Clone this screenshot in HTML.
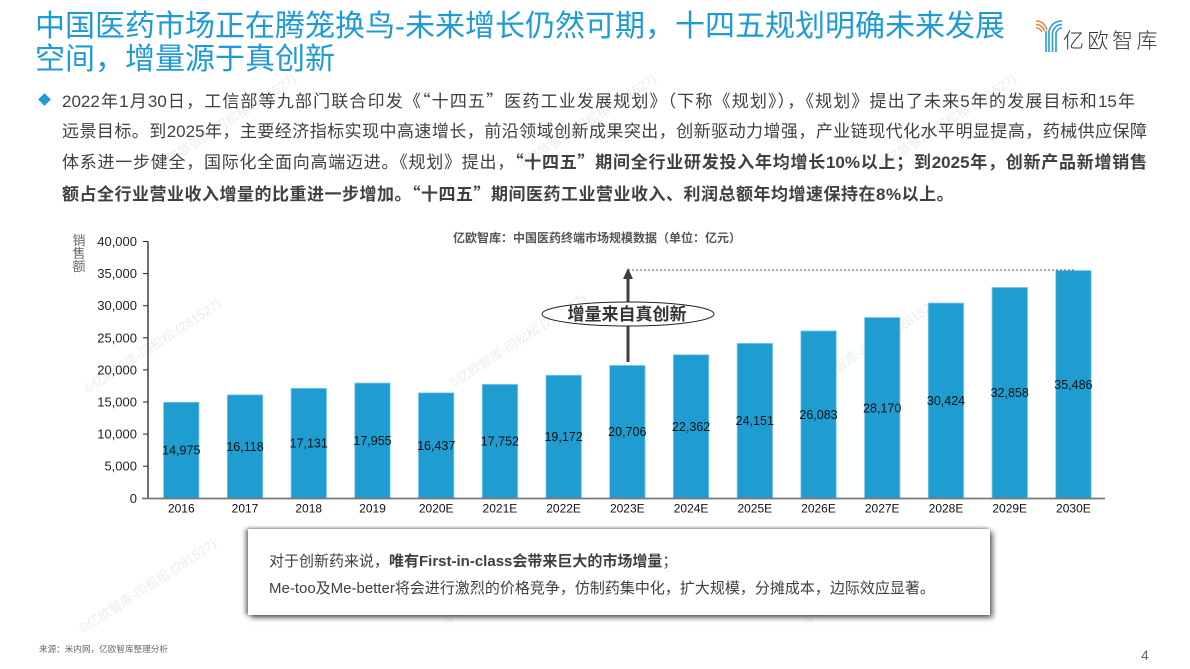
<!DOCTYPE html>
<html lang="zh-CN">
<head>
<meta charset="utf-8">
<style>
  html,body{margin:0;padding:0;background:#fff;}
  body{width:1190px;height:669px;position:relative;overflow:hidden;
       font-family:"Liberation Sans","Noto Sans CJK SC",sans-serif;}
  .title{position:absolute;left:35px;top:10px;font-size:30px;line-height:33px;color:#1E9AD6;
         font-family:"Liberation Sans","Noto Sans CJK SC",sans-serif;white-space:nowrap;}
  .body{position:absolute;left:62px;top:85px;font-size:17px;line-height:29.7px;color:#404040;}
  .body .ln{text-align:justify;text-align-last:justify;}
  .q{font-family:"Noto Sans CJK SC",sans-serif;}
  b{font-weight:700;}
  .diamond{position:absolute;left:40px;top:95px;width:9px;height:9px;background:#1E9AD6;transform:rotate(45deg);}
  .box{position:absolute;left:248px;top:529px;width:742px;height:86px;background:#fff;
       box-shadow:3px 3px 5px rgba(0,0,0,.55),-3px 0 4px rgba(0,0,0,.4),0 -1px 3px rgba(0,0,0,.25);}
  .box .t{position:absolute;left:21px;font-size:15px;color:#404040;white-space:nowrap;line-height:20px;}
  .src{position:absolute;left:39px;top:643px;font-size:8.6px;color:#666;}
  .pg{position:absolute;left:1141px;top:647px;font-size:14px;color:#666;}
  .logo-t{position:absolute;left:1063px;top:26px;font-size:21px;letter-spacing:3.5px;color:#333;
          font-family:"Noto Sans CJK SC",sans-serif;font-weight:300;line-height:28px;}
  svg{position:absolute;left:0;top:0;}
</style>
</head>
<body>

<!-- watermarks -->
<svg width="1190" height="669" style="z-index:0">
  <g fill="#ececec" font-size="13" font-family="Liberation Sans, Noto Sans CJK SC, sans-serif">
    <text transform="translate(155,350) rotate(-33)" text-anchor="middle">©亿欧智库-闫松松 (281527)</text>
    <text transform="translate(520,345) rotate(-33)" text-anchor="middle">©亿欧智库-闫松松 (281527)</text>
    <text transform="translate(875,348) rotate(-33)" text-anchor="middle">©亿欧智库-闫松松 (281527)</text>
    <text transform="translate(515,580) rotate(-33)" text-anchor="middle">©亿欧智库-闫松松 (281527)</text>
    <text transform="translate(875,580) rotate(-33)" text-anchor="middle">©亿欧智库-闫松松 (281527)</text>
    <text transform="translate(150,590) rotate(-33)" text-anchor="middle">©亿欧智库-闫松松 (281527)</text>
    <text transform="translate(230,125) rotate(-33)" text-anchor="middle">©亿欧智库-闫松松 (281527)</text>
    <text transform="translate(590,125) rotate(-33)" text-anchor="middle">©亿欧智库-闫松松 (281527)</text>
    <text transform="translate(950,125) rotate(-33)" text-anchor="middle">©亿欧智库-闫松松 (281527)</text>
  </g>
</svg>

<div class="title">中国医药市场正在腾笼换鸟-未来增长仍然可期，十四五规划明确未来发展<br>空间，增量源于真创新</div>

<!-- logo -->
<svg width="1190" height="669" style="z-index:2">
  <g fill="none" stroke-width="1.6">
    <path d="M1036,21 Q1044,21 1047,30" stroke="#D98B3A"/>
    <path d="M1036,24.5 Q1042,24.5 1044.5,31" stroke="#D98B3A"/>
    <path d="M1036,28 Q1040,28 1042,32" stroke="#D98B3A"/>
    <path d="M1062,21 Q1052,21 1049,31 L1049,52" stroke="#2A9BD5"/>
    <path d="M1062,24.5 Q1055,24.5 1052.5,32 L1052.5,52" stroke="#2A9BD5"/>
    <path d="M1062,28 Q1058,28 1056,33 L1056,52" stroke="#2A9BD5"/>
    <path d="M1046,31 L1046,52" stroke="#2A9BD5"/>
  </g>
</svg>
<div class="logo-t">亿欧智库</div>

<div class="diamond"></div>
<div class="body">
  <div class="ln" style="width:1073px">2022年1月30日，工信部等九部门联合印发《<span class="q">“</span>十四五<span class="q">”</span>医药工业发展规划》（下称《规划》），《规划》提出了未来5年的发展目标和15年</div>
  <div class="ln" style="width:1085px">远景目标。到2025年，主要经济指标实现中高速增长，前沿领域创新成果突出，创新驱动力增强，产业链现代化水平明显提高，药械供应保障</div>
  <div class="ln" style="width:1085px">体系进一步健全，国际化全面向高端迈进。《规划》提出，<b><span class="q">“</span>十四五<span class="q">”</span>期间全行业研发投入年均增长10%以上；到2025年，创新产品新增销售</b></div>
  <div style="letter-spacing:0.5px;white-space:nowrap"><b>额占全行业营业收入增量的比重进一步增加。<span class="q">“</span>十四五<span class="q">”</span>期间医药工业营业收入、利润总额年均增速保持在8%以上。</b></div>
</div>

<!-- chart -->
<svg width="1190" height="669" style="z-index:1" font-family="Liberation Sans, Noto Sans CJK SC, sans-serif">
  <text x="597" y="242" text-anchor="middle" font-size="12" font-weight="700" fill="#555">亿欧智库：中国医药终端市场规模数据（单位：亿元）</text>

  <!-- y axis title -->
  <g font-size="13" fill="#666" text-anchor="middle">
    <text x="79" y="245">销</text>
    <text x="79" y="258">售</text>
    <text x="79" y="271">额</text>
  </g>

  <!-- y labels -->
  <g font-size="13" fill="#222" text-anchor="end">
    <text x="137" y="502.8">0</text>
    <text x="137" y="470.7">5,000</text>
    <text x="137" y="438.6">10,000</text>
    <text x="137" y="406.5">15,000</text>
    <text x="137" y="374.4">20,000</text>
    <text x="137" y="342.3">25,000</text>
    <text x="137" y="310.2">30,000</text>
    <text x="137" y="278.1">35,000</text>
    <text x="137" y="246">40,000</text>
  </g>

  <!-- bars -->
  <g fill="#1F9DD1" stroke="#8ECFEC" stroke-width="0.8">
    <rect x="163.5" y="402.2" width="35.5" height="96.1"/>
    <rect x="227.3" y="394.8" width="35.5" height="103.5"/>
    <rect x="291.0" y="388.3" width="35.5" height="110.0"/>
    <rect x="354.7" y="383.0" width="35.5" height="115.3"/>
    <rect x="418.4" y="392.8" width="35.5" height="105.5"/>
    <rect x="482.2" y="384.3" width="35.5" height="114.0"/>
    <rect x="545.9" y="375.2" width="35.5" height="123.1"/>
    <rect x="609.6" y="365.4" width="35.5" height="132.9"/>
    <rect x="673.3" y="354.7" width="35.5" height="143.6"/>
    <rect x="737.1" y="343.3" width="35.5" height="155.0"/>
    <rect x="800.8" y="330.9" width="35.5" height="167.4"/>
    <rect x="864.5" y="317.5" width="35.5" height="180.8"/>
    <rect x="928.2" y="303.0" width="35.5" height="195.3"/>
    <rect x="992.0" y="287.4" width="35.5" height="210.9"/>
    <rect x="1055.7" y="270.5" width="35.5" height="227.8"/>
  </g>

  <!-- value labels -->
  <g font-size="12.5" fill="#111" text-anchor="middle">
    <text x="181.3" y="454.6">14,975</text>
    <text x="245.0" y="451.0">16,118</text>
    <text x="308.7" y="447.7">17,131</text>
    <text x="372.5" y="445.1">17,955</text>
    <text x="436.2" y="449.9">16,437</text>
    <text x="499.9" y="445.7">17,752</text>
    <text x="563.6" y="441.2">19,172</text>
    <text x="627.3" y="436.2">20,706</text>
    <text x="691.1" y="430.9">22,362</text>
    <text x="754.8" y="425.2">24,151</text>
    <text x="818.5" y="419.0">26,083</text>
    <text x="882.2" y="412.3">28,170</text>
    <text x="946.0" y="405.0">30,424</text>
    <text x="1009.7" y="397.2">32,858</text>
    <text x="1073.4" y="388.8">35,486</text>
  </g>

  <!-- axes -->
  <line x1="148" y1="241.5" x2="148" y2="498.3" stroke="#222" stroke-width="1.3"/>
  <g stroke="#222" stroke-width="1">
    <line x1="143" y1="241.5" x2="148" y2="241.5"/>
    <line x1="143" y1="273.6" x2="148" y2="273.6"/>
    <line x1="143" y1="305.7" x2="148" y2="305.7"/>
    <line x1="143" y1="337.8" x2="148" y2="337.8"/>
    <line x1="143" y1="369.9" x2="148" y2="369.9"/>
    <line x1="143" y1="402.0" x2="148" y2="402.0"/>
    <line x1="143" y1="434.1" x2="148" y2="434.1"/>
    <line x1="143" y1="466.2" x2="148" y2="466.2"/>
  </g>
  <line x1="142" y1="498.5" x2="1105" y2="498.5" stroke="#777" stroke-width="1.8"/>

  <!-- x labels -->
  <g font-size="12" fill="#111" text-anchor="middle">
    <text x="181.3" y="512.5">2016</text>
    <text x="245.0" y="512.5">2017</text>
    <text x="308.7" y="512.5">2018</text>
    <text x="372.5" y="512.5">2019</text>
    <text x="436.2" y="512.5">2020E</text>
    <text x="499.9" y="512.5">2021E</text>
    <text x="563.6" y="512.5">2022E</text>
    <text x="627.3" y="512.5">2023E</text>
    <text x="691.1" y="512.5">2024E</text>
    <text x="754.8" y="512.5">2025E</text>
    <text x="818.5" y="512.5">2026E</text>
    <text x="882.2" y="512.5">2027E</text>
    <text x="946.0" y="512.5">2028E</text>
    <text x="1009.7" y="512.5">2029E</text>
    <text x="1073.4" y="512.5">2030E</text>
  </g>

  <!-- dashed line & arrow -->
  <line x1="628" y1="270" x2="1075" y2="270" stroke="#555" stroke-width="1" stroke-dasharray="2,2"/>
  <line x1="628" y1="362" x2="628" y2="277" stroke="#404040" stroke-width="3"/>
  <polygon points="628,268 623,279 633,279" fill="#404040"/>
  <ellipse cx="628" cy="314" rx="86" ry="12" fill="#fff" stroke="#222" stroke-width="1"/>
  <text x="627" y="320" text-anchor="middle" font-size="17" font-weight="700" fill="#333">增量来自真创新</text>
</svg>

<div class="box">
  <div class="t" style="top:23px">对于创新药来说，<b>唯有First-in-class会带来巨大的市场增量</b>；</div>
  <div class="t" style="top:50px">Me-too及Me-better将会进行激烈的价格竞争，仿制药集中化，扩大规模，分摊成本，边际效应显著。</div>
</div>

<div class="src">来源：米内网，亿欧智库整理分析</div>
<div class="pg">4</div>

</body>
</html>
